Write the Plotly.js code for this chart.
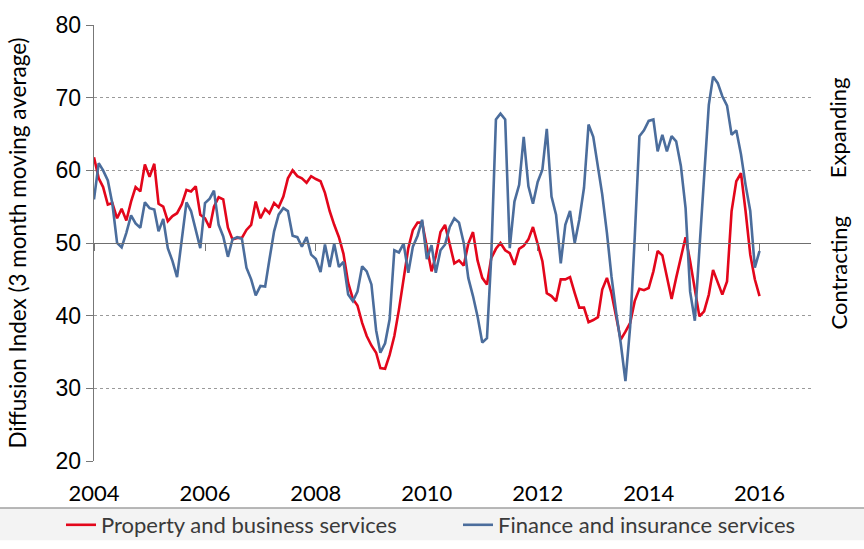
<!DOCTYPE html>
<html>
<head>
<meta charset="utf-8">
<script src="https://cdn.plot.ly/plotly-3.0.1.min.js"></script>
<style>html,body{margin:0;padding:0;background:#fff;}#chart{width:864px;height:549px;}</style>
</head>
<body>
<div id="chart"></div>
<script>
// Monthly observations, Jan 2004 .. Jan 2016
const startYear = 2004;
const nMonths = 145;
const propertyBusiness = [
 61.8,58.9,57.7,55.3,55.5,53.4,54.7,53.1,55.7,57.7,57.1,60.8,
 59.1,60.9,55.4,55.0,53.0,53.7,54.1,55.3,57.3,57.1,57.8,53.9,
 53.4,52.1,55.0,56.3,56.0,52.1,50.5,50.7,50.7,51.8,52.5,55.7,
 53.4,54.7,54.1,55.5,54.9,56.4,58.9,60.0,59.2,58.9,58.3,59.2,
 58.8,58.5,56.9,54.4,52.5,50.8,48.5,44.5,42.3,41.4,39.0,37.2,
 35.9,34.9,32.8,32.7,34.6,37.2,40.8,45.4,49.3,51.8,52.8,52.8,
 49.2,46.1,48.2,51.5,52.5,50.0,47.2,47.6,46.9,49.9,51.5,47.6,
 45.2,44.3,47.9,49.2,50.0,49.0,48.6,47.0,49.2,49.6,50.5,52.2,
 49.7,47.5,43.1,42.7,42.0,45.0,45.0,45.3,43.1,41.1,41.1,39.1,
 39.4,39.8,43.6,45.2,43.1,39.9,36.7,37.8,39.0,42.0,43.7,43.5,
 43.8,46.1,48.9,48.3,45.2,42.3,45.2,48.2,50.8,47.5,43.3,39.9,
 40.6,42.9,46.3,44.5,42.9,44.7,54.4,58.5,59.6,54.4,48.4,45.0,
 42.7
];
const financeInsurance = [
 56.0,61.0,60.0,58.6,55.4,50.0,49.4,51.4,53.8,52.7,52.1,55.6,
 54.8,54.6,51.6,53.3,49.3,47.5,45.3,50.5,55.6,54.4,52.0,49.3,
 55.5,56.1,57.2,52.5,50.9,48.1,50.5,50.8,50.6,46.6,45.0,42.8,
 44.1,44.0,47.7,51.6,53.9,54.8,54.4,51.0,50.8,49.5,50.8,48.4,
 47.8,46.0,49.8,46.7,49.9,46.7,47.4,42.9,42.0,43.3,46.8,46.1,
 44.3,38.0,34.9,36.2,39.5,49.0,48.7,49.9,45.9,49.5,51.0,53.2,
 47.8,49.7,45.9,49.0,49.8,52.2,53.4,52.8,50.0,45.2,42.7,39.9,
 36.3,36.9,48.0,67.0,67.8,67.0,49.3,55.7,58.0,64.6,57.8,55.4,
 58.4,60.1,65.7,56.4,53.9,47.2,52.5,54.4,50.0,53.2,57.6,66.3,
 64.6,60.3,56.7,51.4,45.4,40.4,36.2,31.0,38.5,50.7,64.7,65.5,
 66.8,67.0,62.6,64.9,62.6,64.7,64.0,60.6,54.8,43.3,39.3,49.1,
 59.9,69.0,72.9,72.0,70.2,68.9,64.9,65.5,62.2,58.0,54.4,46.6,
 48.9
];
const yTicks = [20,30,40,50,60,70,80];
const xTickYears = ['2004','2006','2008','2010','2012','2014','2016'];
const seriesNames = ['Property and business services','Finance and insurance services'];
const sideLabels = ['Expanding','Contracting'];

const months = [];
for (let i = 0; i < nMonths; i++) {
  const y = startYear + Math.floor(i / 12);
  const m = (i % 12) + 1;
  months.push(y + '-' + String(m).padStart(2, '0') + '-01');
}
const xTickVals = xTickYears.map(y => y + '-01-01');
const labelFont = 'Lato, "Open Sans", sans-serif';

const traces = [
  {x: months, y: propertyBusiness, type: 'scatter', mode: 'lines', name: seriesNames[0],
   line: {color: '#e3061b', width: 2.6}, legend: 'legend'},
  {x: months, y: financeInsurance, type: 'scatter', mode: 'lines', name: seriesNames[1],
   line: {color: '#4b6d9c', width: 2.6}, legend: 'legend2'},
  // carrier trace so the axis drawn at the 50 level exists
  {x: [months[0]], y: [null], xaxis: 'x2', type: 'scatter', mode: 'lines', showlegend: false, hoverinfo: 'skip'}
];

const legendCommon = {orientation: 'h', xref: 'container', yref: 'container',
  xanchor: 'left', y: (549 - 525) / 549, yanchor: 'middle',
  font: {family: labelFont, size: 22, color: '#3a3a3a'},
  bgcolor: 'rgba(0,0,0,0)', itemwidth: 30};

const layout = {
  width: 864, height: 549,
  margin: {l: 94, r: 53, t: 25, b: 88},
  paper_bgcolor: '#ffffff', plot_bgcolor: '#ffffff',
  showlegend: true,
  legend: Object.assign({}, legendCommon, {x: 61 / 864}),
  legend2: Object.assign({}, legendCommon, {x: 458 / 864}),
  xaxis: {type: 'date', range: ['2004-01-01', '2016-12-05'],
    tickvals: xTickVals, ticktext: xTickYears, ticks: '', showgrid: false, showline: false,
    zeroline: false, tickfont: {family: labelFont, size: 22, color: '#000'},
    ticklabelstandoff: 17},
  xaxis2: {type: 'date', overlaying: 'x', anchor: 'free', position: 0.5, side: 'bottom',
    range: ['2004-01-01', '2016-12-05'], tickvals: xTickVals, showticklabels: false,
    ticks: 'outside', ticklen: 7, tickcolor: '#777', showline: true, linecolor: '#6f6f6f', linewidth: 1.3,
    showgrid: false, zeroline: false},
  yaxis: {range: [20, 80], tickvals: yTicks, ticks: 'outside', ticklen: 7, tickcolor: '#777',
    showline: true, linecolor: '#777', linewidth: 1.3, showgrid: true, gridcolor: '#9a9a9a',
    griddash: 'dot', gridwidth: 1, zeroline: false,
    tickfont: {family: '"Liberation Sans", Arial, sans-serif', size: 23, color: '#000'},
    title: {text: 'Diffusion Index (3 month moving average)', standoff: 22,
      font: {family: labelFont, size: 22.5, color: '#000'}}},
  shapes: [
    {type: 'rect', xref: 'paper', yref: 'paper', x0: -0.135, x1: 1.08, y0: -0.108, y1: -0.182,
     fillcolor: '#f3f3f3', line: {width: 0}, layer: 'below'},
    {type: 'line', xref: 'paper', yref: 'paper', x0: -0.135, x1: 1.08, y0: -0.108, y1: -0.108,
     line: {color: '#a0a0a0', width: 1.5}}
  ],
  annotations: [
    {text: sideLabels[0], xref: 'paper', yref: 'paper', x: 1.038, y: 0.764, textangle: -90,
     showarrow: false, xanchor: 'center', yanchor: 'middle',
     font: {family: labelFont, size: 22, color: '#000'}},
    {text: sideLabels[1], xref: 'paper', yref: 'paper', x: 1.038, y: 0.433, textangle: -90,
     showarrow: false, xanchor: 'center', yanchor: 'middle',
     font: {family: labelFont, size: 22, color: '#000'}}
  ]
};

Plotly.newPlot('chart', traces, layout, {staticPlot: true, displayModeBar: false});
</script>
</body>
</html>
